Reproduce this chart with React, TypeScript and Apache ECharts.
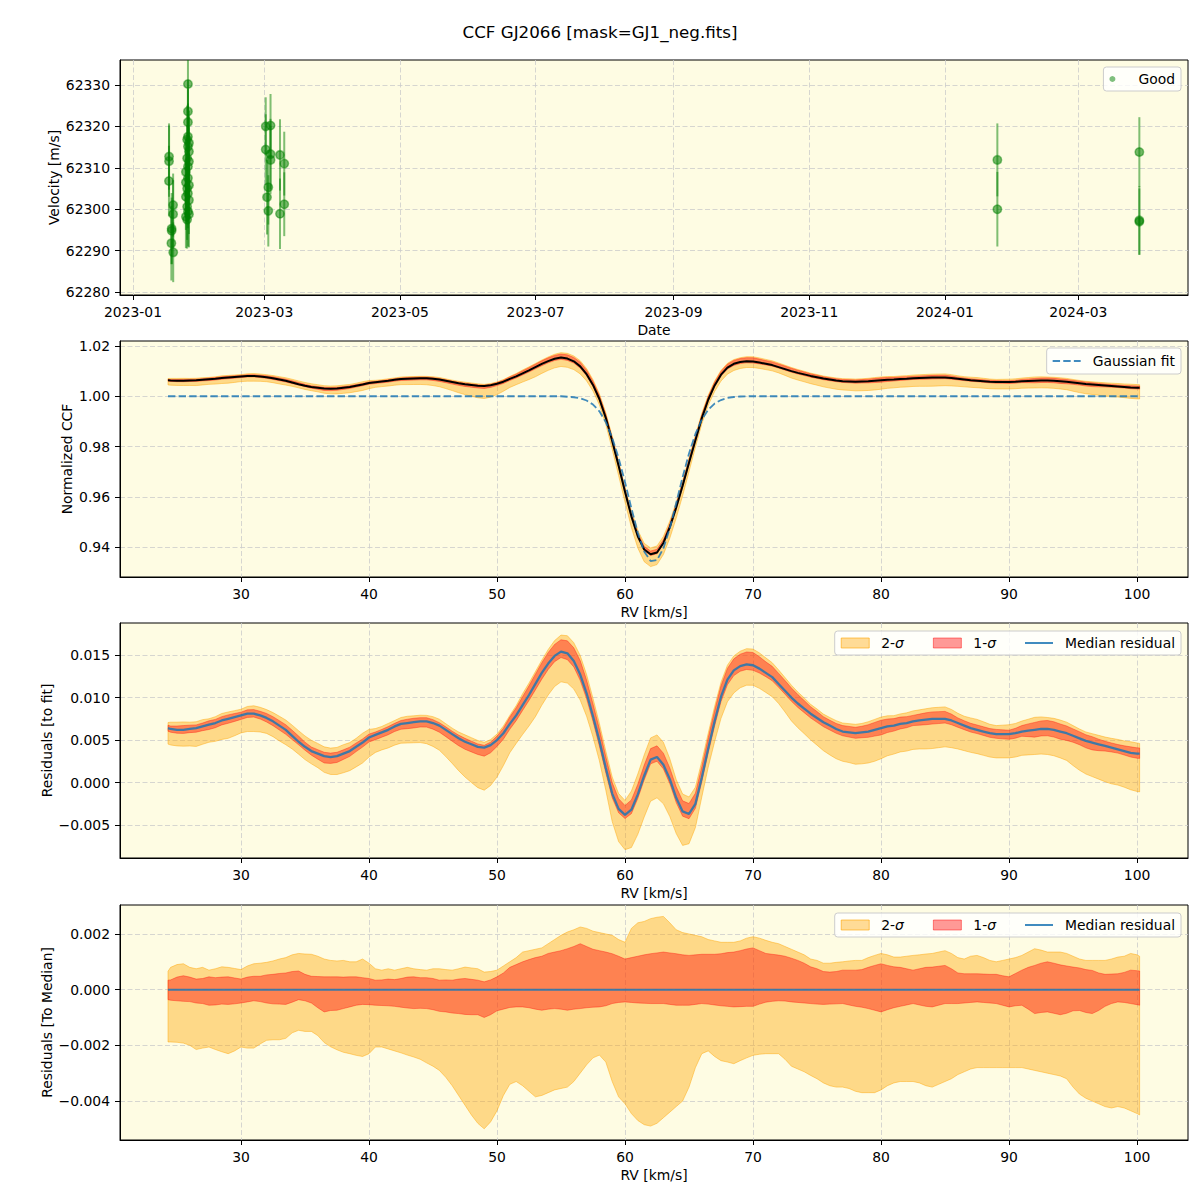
import React, { useEffect, useRef } from "react";
import * as echarts from "echarts";

const TITLE = "CCF GJ2066 [mask=GJ1_neg.fits]";

// ---------------- Panel 1: radial velocities ----------------
const OBS_TIME = [
  "2023-01-17T05:00", "2023-01-17T05:00", "2023-01-17T04:00", "2023-01-19T01:00", "2023-01-19T01:00",
  "2023-01-18T09:00", "2023-01-18T09:00", "2023-01-18T06:00", "2023-01-19T02:00",
  "2023-01-25T17:00", "2023-01-25T17:00", "2023-01-25T17:00", "2023-01-25T17:00", "2023-01-25T08:00",
  "2023-01-26T04:00", "2023-01-25T17:00", "2023-01-26T04:00", "2023-01-25T08:00", "2023-01-26T04:00",
  "2023-01-25T17:00", "2023-01-24T19:00", "2023-01-25T17:00", "2023-01-24T19:00", "2023-01-26T04:00",
  "2023-01-25T08:00", "2023-01-25T17:00", "2023-01-24T19:00", "2023-01-26T04:00", "2023-01-25T08:00",
  "2023-01-25T17:00", "2023-01-26T04:00", "2023-01-24T19:00", "2023-01-25T08:00",
  "2023-03-01T16:00", "2023-03-01T16:00", "2023-03-03T20:00", "2023-03-03T20:00", "2023-03-03T20:00",
  "2023-03-02T20:00", "2023-03-02T06:00", "2023-03-02T20:00", "2023-03-08T02:00", "2023-03-08T02:00",
  "2023-03-10T00:00", "2023-03-10T00:00",
  "2024-01-24T14:00", "2024-01-24T14:00", "2024-03-28T10:00", "2024-03-28T10:00", "2024-03-28T10:00",
];
const OBS_VEL = [
  62312.7, 62311.6, 62306.8, 62301.0, 62298.8,
  62295.3, 62294.8, 62291.8, 62289.6,
  62330.2, 62323.6, 62321.0, 62317.5, 62316.8,
  62316.0, 62315.1, 62313.9, 62312.3, 62311.5,
  62310.3, 62309.0, 62307.5, 62306.5, 62305.8,
  62305.0, 62303.8, 62303.0, 62302.2, 62300.6,
  62299.5, 62298.8, 62298.2, 62297.5,
  62320.0, 62314.4, 62320.2, 62313.3, 62311.9,
  62305.3, 62302.9, 62299.6, 62313.1, 62298.9,
  62311.0, 62301.2,
  62311.9, 62300.0, 62313.8, 62297.3, 62297.0,
];
const OBS_ERR = [
  8.0, 8.6, 8.5, 7.6, 8.2,
  8.6, 8.0, 9.0, 7.2,
  7.0, 7.5, 8.0, 8.0, 8.2,
  7.8, 8.0, 8.5, 8.0, 8.3,
  7.9, 8.4, 8.0, 8.6, 7.7,
  8.1, 8.4, 8.0, 8.2, 8.0,
  8.5, 8.0, 7.6, 7.0,
  7.0, 8.5, 7.6, 8.5, 8.2,
  9.0, 9.0, 8.6, 8.6, 8.5,
  7.7, 7.7,
  8.8, 9.0, 8.4, 8.3, 8.0,
];
const DATE_TICKS = [
  "2023-01-01T00:00", "2023-03-01T00:00", "2023-05-01T00:00", "2023-07-01T00:00",
  "2023-09-01T00:00", "2023-11-01T00:00", "2024-01-01T00:00", "2024-03-01T00:00",
];
const VEL_TICKS = [62280, 62290, 62300, 62310, 62320, 62330];

// ---------------- RV grid (km/s) ----------------
const RV = [
  24.3, 24.5, 25, 25.5, 26, 26.5, 27, 27.5, 28, 28.5,
  29, 29.5, 30, 30.5, 31, 31.5, 32, 32.5, 33, 33.5,
  34, 34.5, 35, 35.5, 36, 36.5, 37, 37.5, 38, 38.5,
  39, 39.5, 40, 40.5, 41, 41.5, 42, 42.5, 43, 43.5,
  44, 44.5, 45, 45.5, 46, 46.5, 47, 47.5, 48, 48.5,
  49, 49.5, 50, 50.5, 51, 51.5, 52, 52.5, 53, 53.5,
  54, 54.5, 55, 55.5, 56, 56.5, 57, 57.5, 58, 58.5,
  59, 59.5, 60, 60.5, 61, 61.5, 62, 62.5, 63, 63.5,
  64, 64.5, 65, 65.5, 66, 66.5, 67, 67.5, 68, 68.5,
  69, 69.5, 70, 70.5, 71, 71.5, 72, 72.5, 73, 73.5,
  74, 74.5, 75, 75.5, 76, 76.5, 77, 77.5, 78, 78.5,
  79, 79.5, 80, 80.5, 81, 81.5, 82, 82.5, 83, 83.5,
  84, 84.5, 85, 85.5, 86, 86.5, 87, 87.5, 88, 88.5,
  89, 89.5, 90, 90.5, 91, 91.5, 92, 92.5, 93, 93.5,
  94, 94.5, 95, 95.5, 96, 96.5, 97, 97.5, 98, 98.5,
  99, 99.5, 100, 100.2,
];

// Gaussian fit (normalized CCF)
const GAUSS_FIT = [
  1, 1, 1, 1, 1, 1, 1, 1, 1, 1,
  1, 1, 1, 1, 1, 1, 1, 1, 1, 1,
  1, 1, 1, 1, 1, 1, 1, 1, 1, 1,
  1, 1, 1, 1, 1, 1, 1, 1, 1, 1,
  1, 1, 1, 1, 1, 1, 1, 1, 1, 1,
  1, 1, 1, 1, 1, 1, 1, 1, 1, 1,
  1, 1, 1, 0.9998, 0.9996, 0.9992, 0.9983, 0.9967, 0.994, 0.9897,
  0.9835, 0.9754, 0.9658, 0.9554, 0.9457, 0.9382, 0.9344, 0.9348, 0.9395, 0.9475,
  0.9575, 0.9678, 0.9772, 0.985, 0.9907, 0.9946, 0.9971, 0.9985, 0.9993, 0.9997,
  0.9999, 1, 1, 1, 1, 1, 1, 1, 1, 1,
  1, 1, 1, 1, 1, 1, 1, 1, 1, 1,
  1, 1, 1, 1, 1, 1, 1, 1, 1, 1,
  1, 1, 1, 1, 1, 1, 1, 1, 1, 1,
  1, 1, 1, 1, 1, 1, 1, 1, 1, 1,
  1, 1, 1, 1, 1, 1, 1, 1, 1, 1,
  1, 1, 1, 1,
];

// Median residual to the fit, in units of 1e-4
const MEDIAN_RES_E4 = [
  64, 63, 62, 62, 63, 64, 66, 68, 70, 73,
  75, 77, 79, 81, 81, 79, 76, 72, 67, 62,
  55, 48, 42, 37, 34, 31, 30, 31, 34, 37,
  42, 47, 53, 56, 59, 62, 66, 69, 70, 71,
  72, 72, 70, 67, 62, 57, 52, 48, 45, 42,
  41, 44, 50, 58, 69, 79, 91, 103, 116, 129,
  140, 149, 154, 152, 143, 127, 105, 78, 49, 17,
  -13, -31, -38, -32, -14, 8, 27, 30, 21, 4,
  -18, -34, -37, -25, 6, 40, 72, 101, 121, 132,
  137, 139, 138, 134, 129, 124, 116, 108, 100, 93,
  87, 81, 76, 71, 67, 63, 60, 59, 58, 59,
  60, 62, 64, 66, 67, 69, 70, 72, 73, 74,
  75, 75, 75, 73, 70, 67, 64, 62, 60, 58,
  57, 57, 57, 58, 60, 61, 62, 63, 63, 62,
  60, 58, 55, 52, 49, 47, 45, 43, 41, 39,
  37, 35, 34, 34,
];

// Band edges relative to the median, units of 1e-4
const HI2_E4 = [
  6.6, 8, 9, 9.3, 8, 7.5, 8, 7, 7.5, 8.2,
  8, 7.6, 7.2, 8.5, 9.3, 9.5, 9.8, 10.3, 11, 11.5,
  12.5, 13, 12.8, 12.7, 12, 11, 10.5, 10.3, 10.5, 10,
  10, 11, 9.5, 7.5, 7, 7.5, 7, 7.5, 8, 7.5,
  7.2, 7, 7.5, 7.5, 7.2, 7, 7.5, 8.1, 7.8, 7.5,
  6.3, 6.5, 7, 8.5, 10, 11.5, 13.5, 14, 14.5, 15,
  16.5, 18, 19.5, 20.7, 21.5, 22.5, 22, 21, 20.5, 20,
  19.5, 18, 17, 22, 24, 24.5, 25.5, 26, 26.3, 24,
  21.5, 20.5, 20, 19.5, 19, 18, 17.5, 17, 17, 17,
  17.5, 18.5, 19, 18.5, 17.7, 17, 16.5, 15.5, 14.5, 13.5,
  12.5, 11, 10.5, 9.5, 9.5, 9.8, 10, 10.3, 10.5, 10.5,
  11.5, 12.3, 13, 12.5, 11.7, 11.7, 12, 12.3, 12.5, 12.8,
  13, 13.5, 14, 13, 11.5, 11, 12, 12.3, 11.5, 10.5,
  10, 10.5, 11, 11.5, 12.3, 13.5, 14.7, 14.2, 13.5, 13.5,
  13.5, 13, 12, 11, 10.5, 10.5, 10.5, 10.5, 11, 11.7,
  12, 13, 12.5, 12,
];
const HI1_E4 = [
  3.4, 3.5, 4.5, 5, 4.5, 3.8, 4, 4.6, 4.3, 4.5,
  4.6, 4.2, 3.8, 4.5, 4.8, 4.8, 5.3, 5.5, 5.8, 6,
  6.5, 6.7, 5.5, 4.8, 4.7, 4.6, 4.6, 4.6, 4.5, 4.6,
  4.6, 4.3, 4, 3.4, 3.5, 3.8, 3.6, 4, 4.5, 4.6,
  4.3, 4.3, 4, 3.4, 3.5, 3.4, 3.8, 4, 3.7, 3.4,
  2.8, 3.5, 4.6, 6, 8, 9, 10, 10.8, 11.5, 12,
  13, 13.5, 14, 14.7, 15.5, 16.5, 15.5, 14.5, 14, 13.5,
  12.9, 12, 11, 11.5, 12, 12.5, 12.9, 13.2, 13.5, 13.2,
  12.9, 12.5, 12.3, 12.5, 12.7, 12.7, 12.7, 12.9, 13.3, 13.5,
  14, 14.6, 15, 14, 13, 12.7, 12.4, 12, 11.3, 10.5,
  9.5, 8.2, 7.5, 6.5, 6.3, 6.5, 7, 7, 7, 7.2,
  8, 8.7, 9.3, 8.7, 8.2, 8, 7.5, 7, 7.5, 8,
  8.1, 8.4, 8.7, 7.5, 6, 5.7, 5.7, 5.7, 5.6, 5.5,
  5.5, 5, 4.6, 5.8, 7, 8, 8.7, 9.5, 10, 9.5,
  8.9, 8.5, 8.1, 7.8, 7.2, 6.9, 6, 5.5, 5.6, 5.7,
  6.2, 7, 6.8, 6.7,
];
const LO1_E4 = [
  -3.6, -3.8, -4, -4.2, -4.3, -4.8, -5, -5.6, -5.5, -5.2,
  -5.3, -5.1, -4.8, -4.4, -4, -4.3, -4.8, -5.1, -5.2, -5.3,
  -4.5, -3.6, -4, -4.8, -6.5, -8, -7.5, -7.4, -6.8, -6.2,
  -5.6, -5.3, -5.4, -5.6, -5.7, -5.8, -6, -6.3, -6.6, -6.8,
  -6.7, -6.8, -7.2, -7.8, -8, -8.4, -8.6, -8.9, -9, -9,
  -10, -9, -7.6, -7, -6.4, -6.2, -6.2, -6.5, -7, -7.4,
  -7, -6.8, -7, -7.4, -7, -6.8, -6.5, -6.3, -6.2, -5.8,
  -5, -4.6, -4.4, -4.6, -4.8, -4.9, -5, -5, -5, -5.3,
  -5.6, -5.6, -5.6, -5.3, -5, -5.2, -5.5, -5.8, -6, -6.2,
  -6.1, -6, -6, -5.2, -4.5, -4.2, -4, -4.1, -4.4, -4.6,
  -4.8, -5, -5.2, -5.3, -5.2, -5.1, -5, -5.5, -6, -6.3,
  -6.8, -7.4, -8, -7.2, -6.5, -6, -5.5, -5, -5.5, -6,
  -6.2, -5.6, -5, -5, -5, -4.8, -4.6, -4.4, -4.6, -4.8,
  -5, -5.6, -6.2, -5.8, -5.6, -7, -8.6, -8.2, -8, -8.5,
  -9, -8.5, -7.6, -7.5, -8.2, -8.6, -7.5, -6, -5, -4.4,
  -4.6, -5, -5.4, -5.6,
];
const LO2_E4 = [
  -18.8, -18.8, -18.9, -19.2, -20, -21.5, -21, -20.6, -21.5, -22.3,
  -23, -22, -20.6, -21, -21, -19.5, -18.2, -18, -18, -17.5,
  -15.5, -14.6, -15, -15, -16.5, -19, -20.5, -21.6, -22.5, -23,
  -23.6, -24, -23, -20.6, -20.6, -21.3, -22, -22.7, -23.5, -24.2,
  -25, -26.3, -27.5, -29, -31.5, -34.5, -38, -41.5, -45, -48,
  -50, -47.5, -43.5, -38, -34, -33, -34.5, -36.5, -38.5, -38,
  -37, -36, -35.5, -35, -33, -30, -27, -24.5, -23.5, -26,
  -33, -38.5, -41, -44.5, -47, -48.5, -49, -48, -46, -44,
  -42, -40, -35, -28, -23, -22, -24, -25.5, -26, -26.6,
  -25.5, -24.5, -23.6, -23.2, -23, -23, -23, -25, -27.5, -28.5,
  -29.5, -30.8, -32, -33.5, -34.5, -35, -35, -35.5, -36.5, -37,
  -37, -37, -36, -34.5, -33.5, -33, -33, -33, -33.5, -34.5,
  -35, -34, -33, -32, -30.5, -29.5, -28.5, -28, -28, -28,
  -28, -28, -28, -28, -28, -28.5, -29, -29.5, -30, -30.5,
  -31, -32, -35, -37.5, -39, -40, -41, -42, -42.5, -42,
  -42.5, -43.5, -44.5, -45,
];

const RV_TICKS = [30, 40, 50, 60, 70, 80, 90, 100];
const CCF_TICKS = [0.94, 0.96, 0.98, 1.0, 1.02];
const RES_TICKS = [-0.005, 0, 0.005, 0.01, 0.015];
const TOMED_TICKS = [-0.004, -0.002, 0, 0.002];

function buildOption() {
  const FONT = "DejaVu Sans";
  const FS = 13.9;
  const E4 = 1e-4;
  const tms = (s: string) => Date.parse(s + ":00Z");
  const minus = (s: string) => s.replace("-", "\u2212");
  const BG = "rgb(254,252,227)";
  const C0 = "rgba(31,119,180,0.85)";
  const OR_FILL = "rgba(255,165,0,0.4)";
  const OR_EDGE = "rgba(255,165,0,0.45)";
  const RD_FILL = "rgba(255,0,0,0.4)";
  const RD_EDGE = "rgba(255,0,0,0.35)";
  const GREEN = "rgba(0,128,0,0.5)";

  const grids = [60, 341, 623, 905].map((top, i) => ({
    left: 120,
    top,
    width: 1068,
    height: i === 1 ? 236 : 235,
    show: true,
    backgroundColor: BG,
    borderColor: "#000",
    borderWidth: 1,
  }));

  const axis = (gridIndex: number, min: number, max: number, ticks: number[], fmt: any, name: string, nameGap: number, isY: boolean) => ({
    type: "value",
    gridIndex,
    min,
    max,
    name,
    nameGap,
    nameLocation: "middle",
    nameRotate: isY ? 90 : 0,
    nameMoveOverlap: false,
    nameTextStyle: { color: "#000", fontSize: FS, fontFamily: FONT },
    axisLine: { show: true, onZero: false, lineStyle: { color: "#000", width: 1 } },
    axisTick: { show: true, inside: false, length: 5, lineStyle: { color: "#000", width: 1 }, customValues: ticks },
    axisLabel: { show: true, color: "#000", fontSize: FS, fontFamily: FONT, margin: 10, customValues: ticks, formatter: fmt },
    splitLine: { show: true, lineStyle: { color: "#cccccc", width: 0.8, type: [5, 2.5] } },
  });

  const fmtMonth = (v: number) => {
    const d = new Date(v);
    return d.getUTCFullYear() + "-" + String(d.getUTCMonth() + 1).padStart(2, "0");
  };
  const fmtInt = (v: number) => String(Math.round(v));
  const fmt2 = (v: number) => minus(v.toFixed(2));
  const fmt3 = (v: number) => minus((Math.abs(v) < 1e-12 ? 0 : v).toFixed(3));

  const xAxis = [
    axis(0, tms("2022-12-26T03:50"), tms("2024-04-19T07:00"), DATE_TICKS.map(tms), fmtMonth, "Date", 28, false),
    axis(1, 20.55, 103.98, RV_TICKS, fmtInt, "RV [km/s]", 28, false),
    axis(2, 20.55, 103.98, RV_TICKS, fmtInt, "RV [km/s]", 28, false),
    axis(3, 20.55, 103.98, RV_TICKS, fmtInt, "RV [km/s]", 28, false),
  ];
  const yAxis = [
    axis(0, 62279.3, 62336.0, VEL_TICKS, fmtInt, "Velocity [m/s]", 59, true),
    axis(1, 0.92806, 1.02199, CCF_TICKS, fmt2, "Normalized CCF", 46, true),
    axis(2, -0.00888, 0.01877, RES_TICKS, fmt3, "Residuals [to fit]", 66, true),
    axis(3, -0.0054, 0.00304, TOMED_TICKS, fmt3, "Residuals [To Median]", 66, true),
  ];

  // filled band between lo and hi (like fill_between), drawn through the axes' scales
  const band = (idx: number, lo: number[], hi: number[], fill: string, edge: string, name: string | undefined, z: number) => ({
    type: "custom",
    name,
    xAxisIndex: idx,
    yAxisIndex: idx,
    coordinateSystem: "cartesian2d",
    data: [[RV[0], lo[0]]],
    encode: { x: 0, y: 1 },
    clip: true,
    silent: true,
    z,
    itemStyle: { color: fill },
    renderItem: (params: any, api: any) => {
      const up = RV.map((x, i) => api.coord([x, hi[i]]));
      const dn = RV.map((x, i) => api.coord([x, lo[i]]));
      const pts = up.concat(dn.slice().reverse());
      return {
        type: "polygon",
        shape: { points: pts },
        style: { fill, stroke: edge, lineWidth: 1 },
      };
    },
  });

  // Panel 2 (normalized CCF = fit + residual)
  const ccf = (off: number[] | null) => RV.map((_, i) => GAUSS_FIT[i] + (MEDIAN_RES_E4[i] + (off ? off[i] : 0)) * E4);
  // Panel 3 (residual to fit)
  const res = (off: number[] | null) => RV.map((_, i) => (MEDIAN_RES_E4[i] + (off ? off[i] : 0)) * E4);
  // Panel 4 (residual to median)
  const tomed = (off: number[]) => RV.map((_, i) => off[i] * E4);

  const ccfMed = ccf(null);
  const resMed = res(null);

  const series: any[] = [
    {
      type: "custom",
      xAxisIndex: 0,
      yAxisIndex: 0,
      data: OBS_TIME.map((t, i) => [tms(t), OBS_VEL[i], OBS_ERR[i]]),
      encode: { x: 0, y: 1 },
      clip: true,
      silent: true,
      z: 2,
      renderItem: (params: any, api: any) => {
        const x = api.value(0);
        const y = api.value(1);
        const e = api.value(2);
        const p1 = api.coord([x, y + e]);
        const p2 = api.coord([x, y - e]);
        return {
          type: "line",
          shape: { x1: p1[0], y1: p1[1], x2: p2[0], y2: p2[1] },
          style: { stroke: GREEN, lineWidth: 2 },
        };
      },
    },
    {
      type: "scatter",
      name: "Good",
      xAxisIndex: 0,
      yAxisIndex: 0,
      data: OBS_TIME.map((t, i) => [tms(t), OBS_VEL[i]]),
      symbol: "circle",
      symbolSize: 8.5,
      itemStyle: { color: "rgba(0,128,0,0.55)", borderColor: "rgba(0,128,0,0.45)", borderWidth: 1.5, opacity: 1 },
      silent: true,
      z: 3,
    },
    band(1, ccf(LO2_E4), ccf(HI2_E4), OR_FILL, OR_EDGE, undefined, 2),
    band(1, ccf(LO1_E4), ccf(HI1_E4), RD_FILL, RD_EDGE, undefined, 3),
    {
      type: "line",
      xAxisIndex: 1,
      yAxisIndex: 1,
      data: RV.map((x, i) => [x, ccfMed[i]]),
      symbol: "none",
      lineStyle: { color: "#000", width: 2 },
      silent: true,
      z: 4,
    },
    {
      type: "line",
      name: "Gaussian fit",
      xAxisIndex: 1,
      yAxisIndex: 1,
      data: RV.map((x, i) => [x, GAUSS_FIT[i]]),
      symbol: "none",
      lineStyle: { color: C0, width: 1.8, type: [7.4, 3.2] },
      silent: true,
      z: 5,
    },
    band(2, res(LO2_E4), res(HI2_E4), OR_FILL, OR_EDGE, "2-σ", 2),
    band(2, res(LO1_E4), res(HI1_E4), RD_FILL, RD_EDGE, "1-σ", 3),
    {
      type: "line",
      name: "Median residual",
      xAxisIndex: 2,
      yAxisIndex: 2,
      data: RV.map((x, i) => [x, resMed[i]]),
      symbol: "none",
      lineStyle: { color: C0, width: 2.3 },
      silent: true,
      z: 4,
    },
    band(3, tomed(LO2_E4), tomed(HI2_E4), OR_FILL, OR_EDGE, "2-σ", 2),
    band(3, tomed(LO1_E4), tomed(HI1_E4), RD_FILL, RD_EDGE, "1-σ", 3),
    {
      type: "line",
      name: "Median residual",
      xAxisIndex: 3,
      yAxisIndex: 3,
      // median residual relative to itself is zero everywhere
      data: RV.map((x) => [x, 0]),
      symbol: "none",
      lineStyle: { color: C0, width: 2 },
      silent: true,
      z: 4,
    },
  ];

  const legendBase = {
    orient: "horizontal",
    right: 19,
    selectedMode: false,
    backgroundColor: "rgba(255,255,255,0.8)",
    borderColor: "#cccccc",
    borderWidth: 1,
    borderRadius: 3,
    padding: [5, 6, 5, 6],
    itemWidth: 28,
    itemGap: 29,
    formatter: (name: string) => {
      if (name.indexOf("σ") >= 0) return "{t|" + name.replace("σ", "") + "}{i|σ}";
      return "{t|" + name + "}";
    },
    textStyle: {
      color: "#000",
      fontSize: FS,
      fontFamily: FONT,
      rich: {
        t: { color: "#000", fontSize: FS, fontFamily: FONT, padding: [0, 0, 0, 7] },
        i: { color: "#000", fontSize: FS, fontFamily: FONT, fontStyle: "italic" },
      },
    },
  };
  const LINE_ICON = "path://M0,0H28V2H0Z";
  const DASH_ICON = "path://M0,0H7.4V2H0Z M10.6,0H18V2H10.6Z M21.2,0H28V2H21.2Z";
  const bandLegendData = [
    { name: "2-σ", icon: "rect", itemStyle: { color: OR_FILL, borderColor: "rgba(255,165,0,0.6)", borderWidth: 1 } },
    { name: "1-σ", icon: "rect", itemStyle: { color: RD_FILL, borderColor: "rgba(255,0,0,0.45)", borderWidth: 1 } },
    { name: "Median residual", icon: LINE_ICON, itemStyle: { color: C0, borderWidth: 0 } },
  ];

  const legend = [
    { ...legendBase, top: 67, itemHeight: 6, data: [{ name: "Good", icon: "circle", itemStyle: { color: GREEN, borderWidth: 0 } }] },
    { ...legendBase, top: 348, itemHeight: 2, padding: [6, 6, 6, 6], data: [{ name: "Gaussian fit", icon: DASH_ICON, itemStyle: { color: C0, borderWidth: 0 } }] },
    { ...legendBase, top: 631, itemHeight: 10, data: bandLegendData },
    { ...legendBase, top: 913, itemHeight: 10, data: bandLegendData },
  ];

  return {
    animation: false,
    backgroundColor: "#ffffff",
    title: {
      text: TITLE,
      left: "center",
      top: 23,
      padding: 0,
      textStyle: { color: "#000", fontSize: 16.7, fontWeight: "normal", fontFamily: FONT },
    },
    grid: grids,
    xAxis,
    yAxis,
    legend,
    series,
  };
}

export default function App() {
  const ref = useRef<HTMLDivElement>(null);
  useEffect(() => {
    if (!ref.current) return;
    const chart = echarts.init(ref.current, null, { renderer: "svg" });
    chart.setOption(buildOption() as any);
    return () => chart.dispose();
  }, []);
  return (
    <div
      ref={ref}
      style={{ position: "absolute", left: 0, top: 0, width: 1200, height: 1200, background: "#ffffff" }}
    />
  );
}
